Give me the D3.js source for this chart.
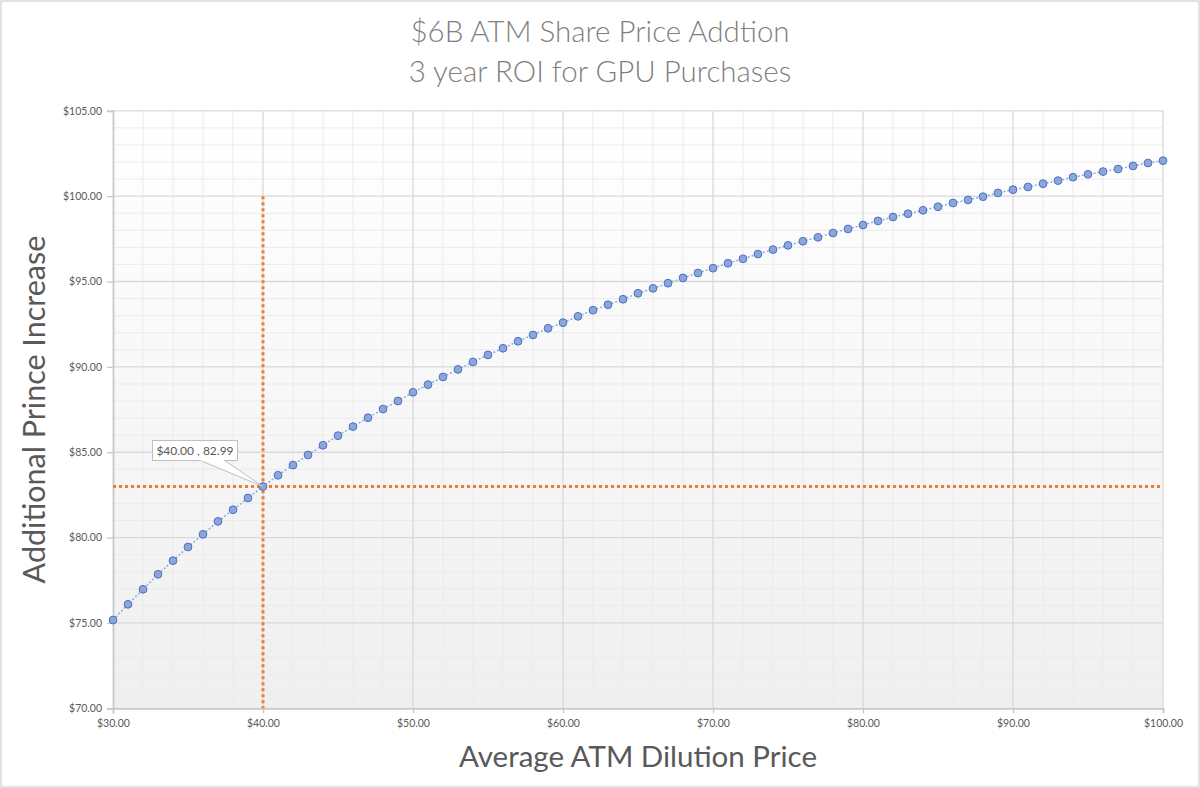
<!DOCTYPE html>
<html>
<head>
<meta charset="utf-8">
<script src="https://cdn.jsdelivr.net/npm/d3@7"></script>
<style>
  html, body { margin: 0; padding: 0; background: #ffffff; }
  svg { display: block; }
  text { font-family: Lato, "Open Sans", sans-serif; }
</style>
</head>
<body>
<svg id="chart" width="1200" height="788"></svg>
<script>
// ---------------- DATA ----------------
const titleLines = ["$6B ATM Share Price Addtion", "3 year ROI for GPU Purchases"];
const xAxisTitle = "Average ATM Dilution Price";
const yAxisTitle = "Additional Prince Increase";

const dilutionPrice = [
  30, 31, 32, 33, 34, 35, 36, 37, 38, 39,
  40, 41, 42, 43, 44, 45, 46, 47, 48, 49,
  50, 51, 52, 53, 54, 55, 56, 57, 58, 59,
  60, 61, 62, 63, 64, 65, 66, 67, 68, 69,
  70, 71, 72, 73, 74, 75, 76, 77, 78, 79,
  80, 81, 82, 83, 84, 85, 86, 87, 88, 89,
  90, 91, 92, 93, 94, 95, 96, 97, 98, 99,
  100
];
const priceIncrease = [
  75.17, 76.09, 76.97, 77.85, 78.65, 79.45, 80.19, 80.95, 81.63, 82.32,
  82.99, 83.65, 84.25, 84.84, 85.41, 85.97, 86.50, 87.02, 87.53, 88.00,
  88.51, 88.96, 89.41, 89.85, 90.29, 90.70, 91.09, 91.50, 91.87, 92.26,
  92.59, 92.96, 93.32, 93.64, 93.96, 94.31, 94.60, 94.90, 95.21, 95.50,
  95.78, 96.07, 96.33, 96.61, 96.87, 97.12, 97.36, 97.59, 97.84, 98.08,
  98.31, 98.55, 98.78, 98.97, 99.17, 99.38, 99.60, 99.78, 99.97, 100.19,
  100.38, 100.54, 100.73, 100.91, 101.11, 101.28, 101.44, 101.59, 101.77, 101.94,
  102.08
];

const xTicks = [30, 40, 50, 60, 70, 80, 90, 100];
const yTicks = [70, 75, 80, 85, 90, 95, 100, 105];
const xMinorTicks = [32, 34, 36, 38, 42, 44, 46, 48, 52, 54, 56, 58, 62, 64, 66, 68, 72, 74, 76, 78, 82, 84, 86, 88, 92, 94, 96, 98];
const yMinorTicks = [71, 72, 73, 74, 76, 77, 78, 79, 81, 82, 83, 84, 86, 87, 88, 89, 91, 92, 93, 94, 96, 97, 98, 99, 101, 102, 103, 104];

// highlighted point & guide lines
const highlightX = [40];
const highlightY = [82.99];
const highlightLabel = ["$40.00 , 82.99"];
const verticalGuideY = [100, 70];
const horizontalGuideX = [30, 100];

// ---------------- DRAW ----------------
const svg = d3.select("#chart");
const W = 1200, H = 788;
const plot = { left: 113, right: 1163, top: 110.8, bottom: 708.3 };

const x = d3.scaleLinear().domain([30, 100]).range([plot.left, plot.right]);
const y = d3.scaleLinear().domain([70, 105]).range([plot.bottom, plot.top]);

// outer border
svg.append("rect")
  .attr("x", 1).attr("y", 1).attr("width", W - 2).attr("height", H - 2)
  .attr("fill", "#ffffff").attr("stroke", "#d9d9d9").attr("stroke-width", 1.5);

// plot background gradient
const defs = svg.append("defs");
const grad = defs.append("linearGradient").attr("id", "bg").attr("x1", 0).attr("y1", 0).attr("x2", 0).attr("y2", 1);
grad.append("stop").attr("offset", "0%").attr("stop-color", "#ffffff");
grad.append("stop").attr("offset", "100%").attr("stop-color", "#efefef");
svg.append("rect")
  .attr("x", plot.left).attr("y", plot.top)
  .attr("width", plot.right - plot.left).attr("height", plot.bottom - plot.top)
  .attr("fill", "url(#bg)");

// minor gridlines
const g = svg.append("g");
g.selectAll(".xminor").data(xMinorTicks).enter().append("line")
  .attr("x1", d => x(d)).attr("x2", d => x(d))
  .attr("y1", plot.top).attr("y2", plot.bottom)
  .attr("stroke", "#ebebeb").attr("stroke-width", 1);
g.selectAll(".yminor").data(yMinorTicks).enter().append("line")
  .attr("y1", d => y(d)).attr("y2", d => y(d))
  .attr("x1", plot.left).attr("x2", plot.right)
  .attr("stroke", "#ebebeb").attr("stroke-width", 1);

// major gridlines
g.selectAll(".xmajor").data(xTicks.slice(1)).enter().append("line")
  .attr("x1", d => x(d)).attr("x2", d => x(d))
  .attr("y1", plot.top).attr("y2", plot.bottom)
  .attr("stroke", "#d9d9d9").attr("stroke-width", 1.3);
g.selectAll(".ymajor").data(yTicks.slice(1)).enter().append("line")
  .attr("y1", d => y(d)).attr("y2", d => y(d))
  .attr("x1", plot.left).attr("x2", plot.right)
  .attr("stroke", "#d9d9d9").attr("stroke-width", 1.3);

// axes
const yAxis = d3.axisLeft(y).tickValues(yTicks).tickSize(6).tickPadding(5)
  .tickFormat(d => "$" + d3.format(".2f")(d));
const yG = svg.append("g").attr("transform", `translate(${plot.left},0)`).call(yAxis);
const xAxis = d3.axisBottom(x).tickValues(xTicks).tickSize(5).tickPadding(6)
  .tickFormat(d => "$" + d3.format(".2f")(d));
const xG = svg.append("g").attr("transform", `translate(0,${plot.bottom})`).call(xAxis);
[yG, xG].forEach(a => {
  a.select(".domain").attr("stroke", "#c8c8c8").attr("stroke-width", 1.8);
  a.selectAll(".tick line").attr("stroke", "#c8c8c8").attr("stroke-width", 1.3);
  a.selectAll(".tick text").attr("fill", "#595959").attr("font-size", 10.5)
    .attr("font-family", "Lato, sans-serif");
});

// guide lines (orange dotted)
const guideLine = d3.line().x(d => x(d[0])).y(d => y(d[1]));
svg.append("path")
  .datum(verticalGuideY.map(v => [highlightX[0], v]))
  .attr("d", guideLine)
  .attr("fill", "none").attr("stroke", "#ed7d31").attr("stroke-width", 3)
  .attr("stroke-dasharray", "3,3");
svg.append("path")
  .datum(horizontalGuideX.map(v => [v, highlightY[0]]))
  .attr("d", guideLine)
  .attr("fill", "none").attr("stroke", "#ed7d31").attr("stroke-width", 3)
  .attr("stroke-dasharray", "3,3");

// series line
const series = dilutionPrice.map((d, i) => ({ x: d, y: priceIncrease[i] }));
svg.append("path")
  .datum(series)
  .attr("d", d3.line().x(d => x(d.x)).y(d => y(d.y)))
  .attr("fill", "none").attr("stroke", "#8faadc").attr("stroke-width", 1.5)
  .attr("stroke-dasharray", "2,2");

// markers
svg.selectAll(".pt").data(series).enter().append("circle")
  .attr("cx", d => x(d.x)).attr("cy", d => y(d.y)).attr("r", 3.9)
  .attr("fill", "#8ea5da").attr("stroke", "#4a72c4").attr("stroke-width", 1);

// callout label
const px = x(highlightX[0]), py = y(highlightY[0]);
const box = { x: 152.5, y: 440.5, w: 85, h: 20 };
const callout = svg.append("g");
callout.append("path")
  .attr("d", `M${box.x + 48},${box.y + box.h} L${px},${py} L${box.x + 72},${box.y + box.h}`)
  .attr("fill", "#ffffff").attr("stroke", "#bfbfbf").attr("stroke-width", 1);
callout.append("rect")
  .attr("x", box.x).attr("y", box.y).attr("width", box.w).attr("height", box.h)
  .attr("fill", "#ffffff").attr("stroke", "#bfbfbf").attr("stroke-width", 1);
callout.append("rect")
  .attr("x", box.x + 48.5).attr("y", box.y + box.h - 1.5).attr("width", 23).attr("height", 2)
  .attr("fill", "#ffffff");
callout.append("text")
  .attr("x", box.x + box.w / 2).attr("y", box.y + 14.5)
  .attr("text-anchor", "middle").attr("font-size", 12).attr("fill", "#595959")
  .text(highlightLabel[0]);

// titles
svg.selectAll(".title").data(titleLines).enter().append("text")
  .attr("x", 600).attr("y", (d, i) => 42 + i * 40)
  .attr("text-anchor", "middle").attr("font-size", 29.5).attr("font-weight", 300)
  .attr("fill", "#7f7f7f")
  .text(d => d);

svg.append("text")
  .attr("x", (plot.left + plot.right) / 2).attr("y", 767)
  .attr("text-anchor", "middle").attr("font-size", 29.5).attr("fill", "#595959")
  .text(xAxisTitle);

svg.append("text")
  .attr("transform", `translate(45,${(plot.top + plot.bottom) / 2}) rotate(-90)`)
  .attr("text-anchor", "middle").attr("font-size", 30.5).attr("fill", "#595959")
  .text(yAxisTitle);
</script>
</body>
</html>
